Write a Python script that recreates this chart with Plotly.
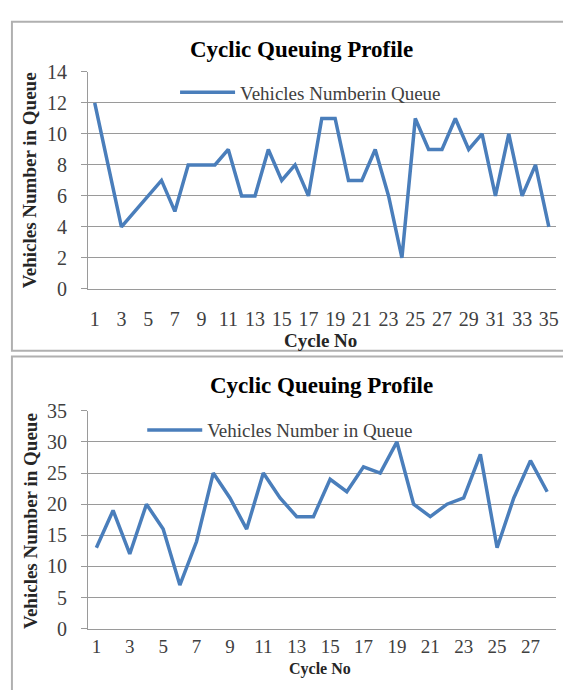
import plotly.graph_objects as go

# ---- data ----
cycles_top = list(range(1, 36))
queue_top = [12, 8, 4, 5, 6, 7, 5, 8, 8, 8, 9, 6, 6, 9, 7, 8, 6, 11, 11, 7,
             7, 9, 6, 2, 11, 9, 9, 11, 9, 10, 6, 10, 6, 8, 4]
cycles_bot = list(range(1, 29))
queue_bot = [13, 19, 12, 20, 16, 7, 14, 25, 21, 16, 25, 21, 18, 18, 24, 22, 26, 25,
             30, 20, 18, 20, 21, 28, 13, 21, 27, 22]
xticks_top = [c for c in cycles_top if c % 2 == 1]
xticks_bot = [c for c in cycles_bot if c % 2 == 1]
title_text = "Cyclic Queuing Profile"
ytitle = "Vehicles Number in Queue"
xtitle = "Cycle No"
legend_top = "Vehicles Numberin Queue"
legend_bot = "Vehicles Number in Queue"

W, H = 563, 690
def px(x):
    return x / W
def py(y):
    return 1 - y / H

FONT = "Liberation Serif, Times New Roman, serif"
LINE = "#4A7EBB"
GRID = "#9a9a9a"
TICKC = "#404040"

fig = go.Figure()
fig.add_trace(go.Scatter(x=cycles_top, y=queue_top, mode="lines", name=legend_top,
                         line=dict(color=LINE, width=3.5), xaxis="x", yaxis="y",
                         legend="legend"))
fig.add_trace(go.Scatter(x=cycles_bot, y=queue_bot, mode="lines", name=legend_bot,
                         line=dict(color=LINE, width=3.5), xaxis="x2", yaxis="y2",
                         legend="legend2"))

axis_common = dict(showgrid=False, zeroline=False, showline=True, linecolor=GRID,
                   linewidth=1, fixedrange=True)
yaxis_common = dict(showgrid=True, gridcolor=GRID, gridwidth=1, zeroline=False,
                    showline=True, linecolor=GRID, linewidth=1, ticks="outside",
                    ticklen=6, tickcolor=GRID, ticklabelstandoff=10,
                    tickfont=dict(family=FONT, size=20, color=TICKC),
                    fixedrange=True)

XL, XR = 88.5, 558.5
fig.update_layout(
    width=W, height=H, margin=dict(l=0, r=0, t=0, b=0),
    paper_bgcolor="white", plot_bgcolor="white",
    xaxis=dict(domain=[px(XL), px(XR)], range=[0.5, 35.5], tickmode="array",
               tickvals=xticks_top, ticktext=[str(v) for v in xticks_top], anchor="y",
               ticklabelstandoff=12, tickfont=dict(family=FONT, size=20, color=TICKC),
               **axis_common),
    yaxis=dict(domain=[py(287), py(63)], range=[0, 14], dtick=2, anchor="x", **yaxis_common),
    xaxis2=dict(domain=[px(XL), px(XR)], range=[0.5, 28.5], tickmode="array",
                tickvals=xticks_bot, ticktext=[str(v) for v in xticks_bot], anchor="y2",
                ticklabelstandoff=1, tickfont=dict(family=FONT, size=19, color=TICKC),
                **axis_common),
    yaxis2=dict(domain=[py(638), py(413)], range=[0, 35], dtick=5, anchor="x2", **yaxis_common),
    legend=dict(x=px(176), y=py(84), xanchor="left", yanchor="middle",
                bgcolor="rgba(0,0,0,0)", font=dict(family=FONT, size=19, color="#404040"),
                itemwidth=55),
    legend2=dict(x=px(143), y=py(433), xanchor="left", yanchor="middle",
                 bgcolor="rgba(0,0,0,0)", font=dict(family=FONT, size=19, color="#404040"),
                 itemwidth=55),
    showlegend=True,
)

# panel borders
for (y0, y1) in [(11, 351), (357, 720)]:
    fig.add_shape(type="rect", xref="paper", yref="paper", x0=px(12), x1=px(600),
                  y0=py(y1), y1=py(y0), line=dict(color="#b0b0b0", width=2), layer="below")

# titles and axis titles
ann = []
for (tx, ty) in [(303, 40), (323, 387)]:
    ann.append(dict(text="<b>" + title_text + "</b>", x=px(tx), y=py(ty), xref="paper", yref="paper",
                    showarrow=False, xanchor="center", yanchor="middle",
                    font=dict(family=FONT, size=23, color="black")))
for (tx, ty) in [(30, 175), (30, 527)]:
    ann.append(dict(text="<b>" + ytitle + "</b>", x=px(tx), y=py(ty), xref="paper", yref="paper",
                    showarrow=False, xanchor="center", yanchor="middle", textangle=-90,
                    font=dict(family=FONT, size=19, color="#262626")))
for (tx, ty, ya, fs) in [(322, 340, "middle", 19), (322, 690, "bottom", 16)]:
    ann.append(dict(text="<b>" + xtitle + "</b>", x=px(tx), y=py(ty), xref="paper", yref="paper",
                    showarrow=False, xanchor="center", yanchor=ya, borderpad=0,
                    font=dict(family=FONT, size=fs, color="#262626")))
fig.update_layout(annotations=ann)

post = (
    "document.documentElement.style.margin='0';"
    "document.documentElement.style.overflow='hidden';"
    "document.body.style.margin='0';"
    "document.body.style.padding='0';"
    "document.body.style.overflow='hidden';"
    "document.body.style.height='690px';"
    "var d=document.getElementById('{plot_id}');"
    "d.style.position='fixed';d.style.top='0px';d.style.left='0px';"
)
fig.write_html("out.html", config={"displayModeBar": False}, post_script=post)
